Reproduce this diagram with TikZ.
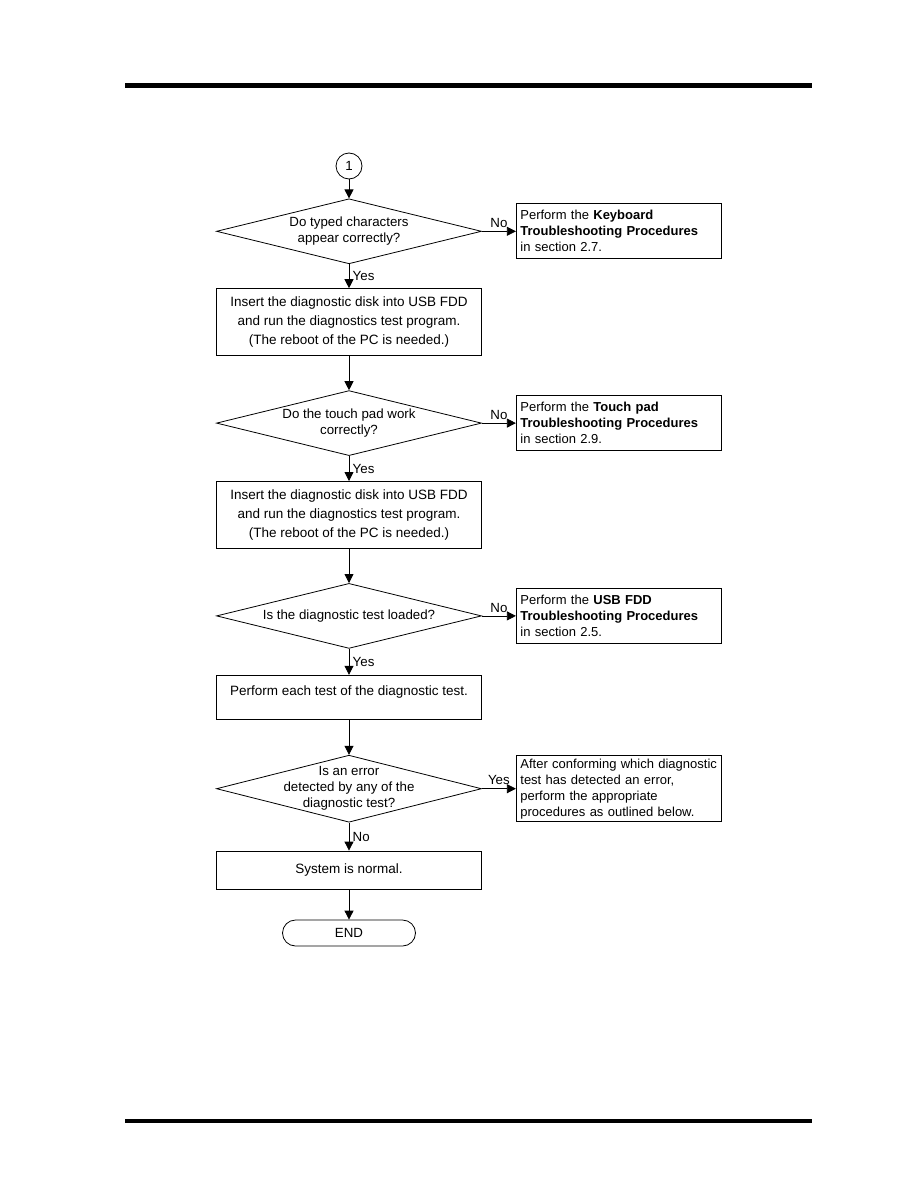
\documentclass[tikz,border=0pt]{standalone}
\usepackage{fontspec}
\setmainfont{Liberation Sans}
\usetikzlibrary{shapes.geometric, arrows.meta, positioning}

\begin{document}
\begin{tikzpicture}[
    x=1pt, y=-1pt,
    node distance=34pt,
    txt/.style={font=\fontsize{13.3pt}{16pt}\selectfont},
    box/.style={rectangle, draw, line width=1pt, minimum width=265pt, align=center, font=\fontsize{13.5pt}{19pt}\selectfont},
    decision/.style={txt, diamond, draw, line width=0.8pt, aspect=4, minimum width=265pt, minimum height=65pt, align=center, inner sep=1pt},
    note/.style={font=\fontsize{13pt}{16pt}\selectfont, rectangle, draw, line width=1pt, text width=197pt, inner xsep=4pt, inner ysep=3pt, align=left, minimum height=55pt},
    arrow/.style={-{Triangle[length=9pt, width=9pt]}, line width=0.8pt},
]
\useasboundingbox (0,0) rectangle (918,1188);

% page rules
\fill (125,83) rectangle (812,88);
\fill (125,1119) rectangle (812,1123);

\node[txt, circle, draw, line width=0.8pt, minimum size=26pt, inner sep=0pt] (con) at (349,166) {1};
\node[decision, below=19pt of con] (d1) {Do typed characters\\appear correctly?};
\node[note, right=34pt of d1] (kbd) {Perform the \textbf{Keyboard}\\\textbf{Troubleshooting Procedures}\\in section 2.7.};
\node[box, minimum height=67pt, below=24pt of d1] (disk1) {Insert the diagnostic disk into USB FDD\\and run the diagnostics test program.\\(The reboot of the PC is needed.)};
\node[decision, below=of disk1] (d2) {Do the touch pad work\\correctly?};
\node[note, right=34pt of d2] (tpad) {Perform the \textbf{Touch pad}\\\textbf{Troubleshooting Procedures}\\in section 2.9.};
\node[box, minimum height=67pt, below=25pt of d2] (disk2) {Insert the diagnostic disk into USB FDD\\and run the diagnostics test program.\\(The reboot of the PC is needed.)};
\node[decision, below=of disk2] (d3) {Is the diagnostic test loaded?};
\node[note, right=34pt of d3] (fdd) {Perform the \textbf{USB FDD}\\\textbf{Troubleshooting Procedures}\\in section 2.5.};
\node[box, minimum height=44pt, text depth=13pt, below=26pt of d3] (tests) {Perform each test of the diagnostic test.};
\node[decision, minimum height=67pt, inner ysep=-8pt, below=35pt of tests] (d4) {Is an error\\detected by any of the\\diagnostic test?};
\node[note, minimum height=66pt, right=34pt of d4] (err) {After conforming which diagnostic\\test has detected an error,\\perform the appropriate\\procedures as outlined below.};
\node[box, minimum height=38pt, below=28pt of d4] (normal) {System is normal.};
\node[txt, draw, line width=0.8pt, rounded corners=13pt, minimum width=133pt, minimum height=26pt, below=30pt of normal] (end) {END};

\draw[arrow] (con) -- (d1);
\draw[arrow] (d1) -- node[txt, above] {No} (kbd);
\draw[arrow] (d1) -- node[txt, right] {Yes} (disk1);
\draw[arrow] (disk1) -- (d2);
\draw[arrow] (d2) -- node[txt, above] {No} (tpad);
\draw[arrow] (d2) -- node[txt, right] {Yes} (disk2);
\draw[arrow] (disk2) -- (d3);
\draw[arrow] (d3) -- node[txt, above] {No} (fdd);
\draw[arrow] (d3) -- node[txt, right] {Yes} (tests);
\draw[arrow] (tests) -- (d4);
\draw[arrow] (d4) -- node[txt, above] {Yes} (err);
\draw[arrow] (d4) -- node[txt, right] {No} (normal);
\draw[arrow] (normal) -- (end);
\end{tikzpicture}
\end{document}
